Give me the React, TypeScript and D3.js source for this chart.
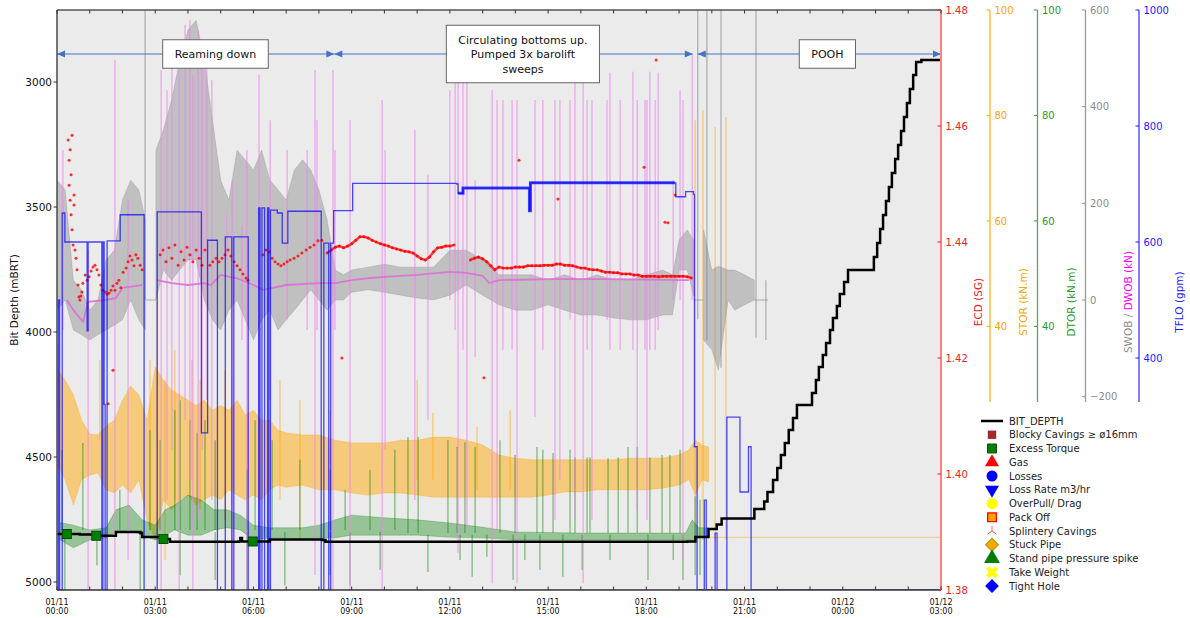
import React, { useEffect, useRef } from "react";
import * as d3 from "d3";

// time is in hours after 01/11 00:00
const timeTicks = [0, 3, 6, 9, 12, 15, 18, 21, 24, 27];
const timeTickLabels = [
  ["01/11", "00:00"], ["01/11", "03:00"], ["01/11", "06:00"], ["01/11", "09:00"], ["01/11", "12:00"],
  ["01/11", "15:00"], ["01/11", "18:00"], ["01/11", "21:00"], ["01/12", "00:00"], ["01/12", "03:00"],
];
const depthTicks = [3000, 3500, 4000, 4500, 5000];
const ecdTicks = [1.38, 1.40, 1.42, 1.44, 1.46, 1.48];
const storTicks = [40, 60, 80, 100];
const dtorTicks = [40, 60, 80, 100];
const wobTicks = [-200, 0, 200, 400, 600];
const tfloTicks = [400, 600, 800, 1000];

// BIT_DEPTH [h, mBRT]
const bitDepth = [
  [0, 4808], [0.7, 4810], [1.3, 4815], [1.8, 4800], [2.55, 4804], [2.6, 4820], [3.3, 4828], [3.45, 4839],
  [5.55, 4838], [5.6, 4824], [5.65, 4838], [6.5, 4830], [8.1, 4832], [8.2, 4839], [19.25, 4838],
  [19.5, 4820], [19.9, 4788], [20.15, 4770], [20.3, 4746], [21.3, 4708], [21.6, 4678], [21.7, 4640],
  [21.87, 4592], [22.0, 4544], [22.11, 4492], [22.23, 4444], [22.35, 4392], [22.48, 4344], [22.6, 4292],
  [23.06, 4244], [23.18, 4192], [23.27, 4140], [23.39, 4092], [23.49, 4044], [23.61, 3992], [23.7, 3944],
  [23.82, 3896], [23.91, 3848], [24.04, 3800], [24.16, 3752], [24.95, 3700], [25.05, 3644], [25.14, 3588],
  [25.23, 3532], [25.32, 3476], [25.41, 3420], [25.5, 3364], [25.6, 3308], [25.69, 3252], [25.78, 3196],
  [25.87, 3140], [25.96, 3084], [26.05, 3028], [26.15, 2972], [26.24, 2920], [26.4, 2912], [27, 2912],
];

// Excess Torque events [h, mBRT]
const excessTorque = [[0.3, 4808], [1.2, 4815], [3.25, 4828], [5.98, 4838]];

// TFLO gpm, step after [h, gpm]
const tflo = [
  [0, 0], [0.04, 500], [0.08, 0], [0.16, 650], [0.24, 600], [0.92, 447], [0.95, 600], [1.37, 0], [1.4, 600],
  [1.44, 320], [1.47, 0], [1.53, 602], [1.93, 647], [2.66, 0], [3.06, 652], [4.41, 271], [4.6, 603], [4.9, 0],
  [5.14, 609], [5.34, 0], [5.4, 609], [5.84, 0], [6.16, 659], [6.2, 0], [6.26, 659], [6.34, 0], [6.43, 659],
  [6.47, 0], [6.52, 655], [6.73, 650], [6.88, 598], [7.05, 653], [8.07, 0], [8.15, 598], [8.3, 0], [8.36, 598],
  [8.45, 654], [9.03, 701], [12.21, 700], [12.25, 684], [12.4, 693], [14.41, 693], [14.43, 654], [14.46, 702],
  [18.87, 702], [18.9, 678], [19.2, 687], [19.44, 682], [19.47, 247], [19.55, 0], [19.77, 155], [19.83, 0],
  [20.1, 98], [20.16, 0], [20.46, 298], [20.86, 169], [21.12, 247], [21.2, 0], [27, 0],
];

// ECD scattered readings [h, SG]
const ecdScatter = [
  [0.34, 1.4576], [0.37, 1.4541], [0.37, 1.4498], [0.40, 1.4559], [0.40, 1.4472], [0.43, 1.4516], [0.43, 1.4447],
  [0.46, 1.4584], [0.46, 1.4421], [0.49, 1.4395], [0.52, 1.4481], [0.52, 1.4464], [0.55, 1.4386], [0.58, 1.4372],
  [0.61, 1.4352], [0.64, 1.4326], [0.67, 1.4305], [0.70, 1.4300], [0.73, 1.4307], [0.76, 1.4314], [0.79, 1.4329],
  [0.86, 1.4343], [0.92, 1.4334], [0.98, 1.4340], [1.04, 1.4350], [1.10, 1.4357], [1.16, 1.4360], [1.22, 1.4352],
  [1.28, 1.4343], [1.34, 1.4326], [1.40, 1.4317], [1.47, 1.4314], [1.53, 1.4310], [1.56, 1.4121], [1.59, 1.4312],
  [1.65, 1.4317], [1.71, 1.4324], [1.71, 1.4179], [1.77, 1.4317], [1.83, 1.4329], [1.89, 1.4334], [1.95, 1.4321],
  [2.02, 1.4348], [2.11, 1.4355], [2.17, 1.4366], [2.23, 1.4376], [2.29, 1.4369], [2.35, 1.4359], [2.41, 1.4378],
  [2.47, 1.4372], [2.54, 1.4360], [2.60, 1.4352],
  [3.15, 1.4378], [3.24, 1.4386], [3.33, 1.4366], [3.42, 1.4390], [3.51, 1.4372], [3.60, 1.4395], [3.70, 1.4360],
  [3.79, 1.4383], [3.88, 1.4369], [3.97, 1.4391], [4.06, 1.4378], [4.15, 1.4366], [4.25, 1.4386], [4.34, 1.4372],
  [4.43, 1.4360], [4.52, 1.4386], [4.67, 1.4360], [4.76, 1.4366], [4.86, 1.4372], [4.95, 1.4366], [5.04, 1.4372],
  [5.13, 1.4378], [5.22, 1.4386], [5.31, 1.4376], [5.41, 1.4366], [5.50, 1.4359], [5.59, 1.4352], [5.68, 1.4345],
  [5.77, 1.4338], [5.83, 1.4334],
  [6.29, 1.4378], [6.38, 1.4386], [6.48, 1.4383], [6.57, 1.4372], [6.66, 1.4366], [6.75, 1.4362], [6.84, 1.4359],
  [6.93, 1.4362], [7.03, 1.4366], [7.12, 1.4369], [7.24, 1.4372], [7.36, 1.4376], [7.48, 1.4381], [7.61, 1.4386],
  [7.73, 1.4391], [7.85, 1.4395], [7.97, 1.4402], [8.09, 1.4403],
  [14.11, 1.4541], [17.93, 1.4529], [15.30, 1.4474], [8.70, 1.4200], [13.04, 1.4166], [18.57, 1.4434],
  [18.66, 1.4433], [18.88, 1.4481], [18.30, 1.4714],
];
// ECD sampled every 7.5 min
const ecdStep = 0.125;
const ecdStartA = 8.25;
const ecdValuesA = [
  1.4381, 1.4386, 1.4391, 1.4393, 1.4390, 1.4393, 1.4397, 1.4403, 1.4409, 1.4409, 1.4407, 1.4403, 1.4400, 1.4397,
  1.4395, 1.4393, 1.4390, 1.4388, 1.4386, 1.4384, 1.4383, 1.4381, 1.4376, 1.4371, 1.4369, 1.4374, 1.4383, 1.4390,
  1.4391, 1.4393, 1.4393, 1.4395,
];
const ecdStartB = 12.625;
const ecdValuesB = [
  1.4369, 1.4372, 1.4374, 1.4371, 1.4366, 1.4359, 1.4352, 1.4357, 1.4355, 1.4355, 1.4355, 1.4357, 1.4357, 1.4357,
  1.4359, 1.4359, 1.4359, 1.4359, 1.4360, 1.4360, 1.4360, 1.4362, 1.4362, 1.4360, 1.4360, 1.4359, 1.4357, 1.4355,
  1.4355, 1.4353, 1.4352, 1.4352, 1.4350, 1.4348, 1.4348, 1.4347, 1.4347, 1.4345, 1.4345, 1.4345, 1.4343, 1.4343,
  1.4341, 1.4341, 1.4341, 1.4341, 1.4340, 1.4341, 1.4341, 1.4341, 1.4341, 1.4341, 1.4341, 1.4340, 1.4338,
];

// SWOB envelope [h, low, high] kN (null = no reading)
const swobEnv = [
  [0, -21, 248], [0.25, 0, 228], [0.5, -62, 41], [0.75, -72, 21], [1.0, -83, -21], [1.25, -72, 0], [1.5, -62, 83],
  [1.75, -52, 103], [2.0, -41, 207], [2.25, 0, 248], [2.5, -41, 228], [2.7, -62, 166], null,
  [3.02, 0, 310], [3.25, 62, 352], [3.5, 41, 414], [3.75, 62, 496], [4.0, 83, 558], [4.25, 83, 579], [4.5, 0, 496],
  [4.75, -41, 372], [5.0, -62, 248], [5.25, -21, 207], [5.5, 0, 310], [5.75, -41, 290], [6.0, -83, 269],
  [6.25, -41, 310], [6.5, -21, 248], [6.75, -62, 228], [7.0, -41, 207], [7.25, -21, 269], [7.5, 0, 290],
  [7.75, 21, 269], [8.0, 0, 228], [8.25, -21, 166], [8.5, 0, 62], [8.75, 0, 52], [9.0, 16, 62], [9.5, 21, 68],
  [10.0, 16, 74], [10.5, 10, 68], [11.0, 4, 68], [11.5, 0, 68], [12.0, 10, 103], [12.5, 31, 103], [13.0, 10, 83],
  [13.5, -10, 52], [14.0, -21, 52], [14.5, -21, 52], [15.0, -10, 41], [15.5, -21, 52], [16.0, -31, 41],
  [16.5, -31, 52], [17.0, -37, 41], [17.5, -41, 41], [18.0, -41, 52], [18.5, -31, 62], [18.8, -31, 52],
  [19.0, 62, 124], [19.25, 62, 145], [19.45, 8, 124], null,
  [19.75, -83, 145], [20.0, -103, 62], [20.2, -145, 70], [20.5, 0, 62], [20.7, -21, 62], [21.0, -10, 52],
  [21.3, 0, 41],
];
const swobFlat = [[2.7, 3.02], [19.45, 19.75], [21.3, 21.72]];
const swobSpikes = [
  [2.69, 0, 650], [19.57, -40, 650], [19.85, -83, 650], [20.28, -140, 650], [21.35, -78, 650], [21.65, -83, 41],
];

// DWOB trend [h, kN] and spikes [h, low, high]
const dwobLine = [
  [0.3, 0], [0.5, -21], [0.8, -45], [0.95, -4], [1.5, 0], [1.8, 4], [2.0, 25], [2.6, 31], null,
  [3.05, 41], [3.5, 35], [4.0, 31], [4.5, 35], [4.7, 31], [5.0, 52], [5.5, 45], [6.0, 31], [6.3, 21], [7.0, 31],
  [8.0, 35], [8.5, 35], [9.0, 41], [9.5, 45], [10, 48], [11, 52], [12, 58], [12.5, 56], [13.0, 50], [13.2, 35],
  [13.5, 41], [15, 43], [17, 43], [19, 41], [19.3, 41],
];
const dwobSpikes = [
  [0.18, -62, 310], [0.95, -600, 103], [1.77, -600, 497], [2.17, -538, 207], [3.18, -600, 476], [3.36, -414, 434],
  [3.51, -310, 538], [3.73, -600, 476], [3.91, -248, 569], [4.06, -372, 579], [4.15, -600, 466], [4.31, -455, 559],
  [4.43, -310, 517], [4.58, -207, 538], [4.73, -414, 455], [5.19, 83, 176], [5.35, -600, 248], [5.65, -83, 155],
  [5.8, -600, 310], [6.17, -600, 466], [6.51, -207, 372], [7.03, -41, 310], [7.64, -62, 310], [7.88, -569, 476],
  [7.94, -62, 372], [8.43, -600, 476], [8.49, -62, 310], [8.95, -600, 372],
  [9.93, -600, 414], [10.02, -310, 310], [10.93, -414, 352], [11.33, -248, 259], [12.0, 0, 434], [12.16, -62, 476],
  [12.25, -523, 455], [12.4, -103, 470], [12.52, -476, 470], [12.77, -118, 248], [13.29, -586, 434],
  [13.44, -476, 414], [13.62, -103, 414], [13.9, -103, 414], [14.05, -586, 414], [14.6, -242, 414],
  [14.84, -103, 414], [15.21, -455, 414], [15.36, -372, 414], [15.67, -41, 414], [15.82, -455, 476],
  [16.07, -586, 476], [16.19, -103, 414], [16.34, -455, 414], [16.8, -41, 414], [16.89, -103, 470],
  [17.2, -103, 414], [17.59, -103, 472], [17.72, -434, 414], [17.96, -103, 414], [18.02, -455, 414],
  [18.11, -103, 472], [18.27, -103, 414], [18.36, -62, 470], [18.82, 0, 248], [19.03, 0, 434], [19.12, -538, 414],
  [19.4, 0, 507],
];

// STOR envelope [h, low, high] kN.m
const storEnv = [
  [0, 13.7, 31.9], [0.25, 10.9, 29.8], [0.5, 6.1, 27], [0.75, 10.9, 22.2], [1.0, 11.8, 19.6], [1.25, 12.2, 19.4],
  [1.5, 9, 21.1], [1.75, 8.4, 22.2], [2.0, 9.9, 26], [2.25, 8.4, 28.7], [2.5, 10.9, 27], [2.75, 3.3, 22.2],
  [3.0, -0.5, 32.3], [3.25, 7.1, 29.8], [3.5, 5.2, 27.9], [3.75, 7.1, 27], [4.0, 8, 26], [4.25, 6.1, 25],
  [4.5, 7.1, 26], [4.75, 8, 24.1], [5.0, 7.1, 25], [5.25, 9, 24.1], [5.5, 8, 26], [5.75, 7.1, 23.2], [6.0, 8, 24.1],
  [6.25, 7.1, 22.2], [6.5, 9, 22.2], [6.75, 9.9, 20.3], [7.0, 9.5, 19.8], [7.5, 9.9, 19.4], [8.0, 9, 19.4],
  [8.5, 9, 18.4], [9.0, 8.4, 17.9], [9.5, 8, 17.9], [10, 8.4, 17.9], [10.5, 8.4, 18.4], [11, 8, 18.4],
  [11.5, 7.6, 19], [12, 7.6, 19], [12.5, 7.6, 18.4], [13, 7.6, 17.5], [13.5, 7.6, 15.6], [14, 7.6, 15],
  [14.5, 7.6, 14.7], [15, 8, 14.7], [15.5, 8.6, 14.7], [16, 8.6, 14.7], [16.5, 9, 14.7], [17, 9, 14.7],
  [17.5, 9, 15], [18, 9, 15], [18.5, 9.3, 15], [19, 9.9, 15.6], [19.3, 10.9, 16.6], [19.5, 8, 18.4],
  [19.7, 10.9, 17.5], [19.9, 10.5, 17.1],
];
const storZero = [[19.95, 0], [27, 0]];
const storSpikes = [
  [0.03, 20.3, 36.5], [1.31, 18.4, 33.6], [2.84, 1.4, 33.6], [3.05, -0.5, 46.9], [3.3, -4.3, 29.8],
  [3.6, 7.1, 35.5], [4.12, 10.9, 33.6], [4.37, 5.2, 29.8], [5.13, 3.3, 31.7], [6.81, 7.1, 29.8], [7.42, -0.5, 26],
  [8.34, 3.3, 24.1], [11.0, 10.9, 29.8], [11.48, 10.9, 23.6], [12.83, 9, 20.9], [13.84, 9, 24.1],
  [19.49, -0.5, 79.1], [19.73, -0.5, 81], [20.1, -0.5, 77.8], [20.43, -0.5, 79.7],
];

// DTOR envelope [h, low, high] kN.m and spikes
const dtorEnv = [
  [0.1, -0.5, 2.8], [0.5, -2, 2.3], [1.0, -0.5, 1.4], [1.5, -0.1, 1.8], [1.8, 1, 5.2], [2.2, 1.4, 6.1],
  [2.6, 0.4, 3.3], [3.0, -0.5, 2.3], [3.3, 0.4, 5.2], [3.6, 1.4, 6.1], [4.0, 0.4, 8], [4.4, 0.4, 7.1],
  [4.8, 1.4, 5.2], [5.2, 1.8, 5.2], [5.6, 1.4, 4.2], [6.0, -0.5, 2.3], [6.5, -0.1, 1.8], [7.0, -0.1, 1.8],
  [7.5, -0.5, 1.8], [8.0, -0.1, 2.3], [8.5, -0.1, 3.3], [9.0, 0.4, 4.2], [10, 0.4, 3.7], [11, 0.4, 3.3],
  [12, 0, 2.7], [13, -0.1, 1.9], [14, -0.5, 1.0], [16, -0.5, 0.8], [18, -0.5, 0.8], [19.2, -0.5, 0.8],
  [19.4, -0.5, 3.3], [19.6, -0.1, 1.8], [19.9, 0.4, 1.8],
];
const dtorSpikes = [
  [0.15, 1.4, 16.6], [0.79, 1.4, 17.9], [1.92, 1.4, 9], [2.84, 1.4, 20.3], [3.15, 1.4, 18.4], [3.6, 1.4, 24.1],
  [3.76, 1.4, 26], [4.06, 1.4, 22.2], [4.28, 1.4, 19.8], [4.52, 1.4, 22.2], [4.83, 1.4, 18.4], [5.8, 1.4, 12.8],
  [6.05, 1.4, 22.2], [6.57, 1.4, 18.4], [7.42, 1.4, 14.7], [8.34, 1.4, 12.8], [8.8, 1.4, 9], [9.56, 1.4, 12.8],
  [10.32, 1.4, 16.6], [10.72, 0.8, 19], [11.03, 0.8, 19], [11.94, 0.8, 18.4], [12.22, 0.8, 17.1], [12.46, 0.8, 18],
  [12.77, 0.8, 17.1], [13.53, 0.8, 18.4], [13.99, 0.8, 15.6], [14.66, 0.8, 17.1], [14.84, 0.8, 16.6],
  [15.15, 0.8, 16], [15.67, 0.8, 16.6], [15.82, 0.8, 15.2], [16.19, 0.8, 15.2], [16.28, 0.8, 15.2],
  [16.83, 0.8, 15], [17.14, 0.8, 15.2], [17.44, 0.8, 17.1], [17.72, 0.8, 17.1], [18.11, 0.8, 15.2],
  [18.48, 0.8, 15.6], [18.72, 0.8, 15.6], [19.03, 0.8, 16.6],
  [0.24, -10, 1], [1.22, -5.3, 1], [2.54, -10, 1], [3.76, -7.2, 1], [4.83, -8.1, 1], [5.8, -10, 1], [6.96, -9.1, 1],
  [8.34, -7.2, 1], [8.95, -9.1, 1], [9.87, -6.2, 1], [11.33, -6.6, 0.5], [12.31, -4.3, 0.5], [12.68, -7.5, 0.5],
  [13.13, -3.7, 0.5], [13.93, -8.1, 0.5], [14.29, -4.3, 0.5], [14.75, -6.2, 0.5], [15.45, -7.5, 0.5],
  [16.04, -6.2, 0.5], [16.89, -4.3, 0.5], [18.05, -8.1, 0.5], [18.82, -4.3, 0.5], [19.12, -8.1, 0.5],
  [19.49, -7.2, 7.8], [19.64, -7.2, 7.1],
];

// Phase annotations
const phaseArrows = [[0, 8.47], [8.47, 19.42], [19.57, 27]];
const phaseDepth = 2888;
const phaseBoxes = [
  { h: 4.84, lines: ["Reaming down"] },
  { h: 14.23, lines: ["Circulating bottoms up.", "Pumped 3x barolift", "sweeps"] },
  { h: 23.53, lines: ["POOH"] },
];

const legendLabels = [
  "BIT_DEPTH", "Blocky Cavings \u2265 \u00f816mm", "Excess Torque", "Gas", "Losses", "Loss Rate m3/hr",
  "OverPull/ Drag", "Pack Off", "Splintery Cavings", "Stuck Pipe", "Stand pipe pressure spike", "Take Weight",
  "Tight Hole",
];

const W = 1190, H = 618;
const X0 = 57, X1 = 941, Y0 = 10, Y1 = 590;
const FONT = "DejaVu Sans, Verdana, sans-serif";

function draw(el: SVGSVGElement) {
  const svg = d3.select(el);
  svg.selectAll("*").remove();

  const x = d3.scaleLinear().domain([0, 27]).range([X0, X1]);
  const yDepth = d3.scaleLinear().domain([2712, 5032]).range([Y0, Y1]);
  const yEcd = d3.scaleLinear().domain([1.38, 1.48]).range([Y1, Y0]);
  const yTor = d3.scaleLinear().domain([-10, 100]).range([Y1, Y0]);
  const yWob = d3.scaleLinear().domain([-600, 600]).range([Y1, Y0]);
  const yFlo = d3.scaleLinear().domain([0, 1000]).range([Y1, Y0]);

  svg.append("rect").attr("width", W).attr("height", H).attr("fill", "#ffffff");
  svg.append("rect").attr("x", X0).attr("y", Y0).attr("width", X1 - X0).attr("height", Y1 - Y0).attr("fill", "#ebebeb");
  svg.append("defs").append("clipPath").attr("id", "plotclip")
    .append("rect").attr("x", X0).attr("y", Y0).attr("width", X1 - X0).attr("height", Y1 - Y0);
  const plot = svg.append("g").attr("clip-path", "url(#plotclip)");

  const band = (y) => d3.area().defined((d) => d != null)
    .x((d) => x(d[0])).y0((d) => y(d[1])).y1((d) => y(d[2]));
  const spikes = (data, y, color, op, w) => {
    plot.append("g").selectAll("line").data(data).join("line")
      .attr("x1", (d) => x(d[0])).attr("x2", (d) => x(d[0]))
      .attr("y1", (d) => y(d[1])).attr("y2", (d) => y(d[2]))
      .attr("stroke", color).attr("stroke-opacity", op).attr("stroke-width", w);
  };

  // STOR
  plot.append("path").datum(storEnv).attr("d", band(yTor)).attr("fill", "#ffa500").attr("fill-opacity", 0.48)
    .attr("stroke", "#ffa500").attr("stroke-opacity", 0.3).attr("stroke-width", 1);
  spikes(storSpikes, yTor, "#ffa500", 0.55, 1.2);
  plot.append("path").datum(storZero)
    .attr("d", d3.line().x((d) => x(d[0])).y((d) => yTor(d[1])))
    .attr("fill", "none").attr("stroke", "#ffa500").attr("stroke-opacity", 0.45).attr("stroke-width", 1);

  // DTOR
  plot.append("path").datum(dtorEnv).attr("d", band(yTor)).attr("fill", "#008000").attr("fill-opacity", 0.36)
    .attr("stroke", "#008000").attr("stroke-opacity", 0.25).attr("stroke-width", 1);
  spikes(dtorSpikes, yTor, "#008000", 0.5, 1.2);

  // SWOB
  plot.append("path").datum(swobEnv).attr("d", band(yWob)).attr("fill", "#808080").attr("fill-opacity", 0.4)
    .attr("stroke", "#808080").attr("stroke-opacity", 0.25).attr("stroke-width", 1);
  plot.append("g").selectAll("line").data(swobFlat).join("line")
    .attr("x1", (d) => x(d[0])).attr("x2", (d) => x(d[1])).attr("y1", yWob(0)).attr("y2", yWob(0))
    .attr("stroke", "#808080").attr("stroke-opacity", 0.6).attr("stroke-width", 1);
  spikes(swobSpikes, yWob, "#808080", 0.55, 1.3);

  // DWOB
  spikes(dwobSpikes, yWob, "#ee82ee", 0.7, 1.2);
  plot.append("path").datum(dwobLine)
    .attr("d", d3.line().defined((d) => d != null).x((d) => x(d[0])).y((d) => yWob(d[1])))
    .attr("fill", "none").attr("stroke", "#da70d6").attr("stroke-opacity", 0.9).attr("stroke-width", 1.8);

  // ECD
  const segA = ecdValuesA.map((v, i) => [ecdStartA + i * ecdStep, v]);
  const segB = ecdValuesB.map((v, i) => [ecdStartB + i * ecdStep, v]);
  const ecdLine = d3.line().x((d) => x(d[0])).y((d) => yEcd(d[1]));
  [segA, segB].forEach((seg) => {
    plot.append("path").datum(seg).attr("d", ecdLine).attr("fill", "none")
      .attr("stroke", "#ff0000").attr("stroke-opacity", 0.75).attr("stroke-width", 2.4);
  });
  plot.append("g").selectAll("circle").data([...ecdScatter, ...segA, ...segB]).join("circle")
    .attr("cx", (d) => x(d[0])).attr("cy", (d) => yEcd(d[1])).attr("r", 1.5)
    .attr("fill", "#ff0000").attr("fill-opacity", 0.8);

  // TFLO
  const floLine = d3.line().curve(d3.curveStepAfter).x((d) => x(d[0])).y((d) => yFlo(d[1]));
  plot.append("path").datum(tflo).attr("d", floLine).attr("fill", "none")
    .attr("stroke", "#0000ff").attr("stroke-opacity", 0.7).attr("stroke-width", 1.3);
  plot.append("path").datum(tflo.filter((d) => d[0] >= 12.25 && d[0] <= 18.87)).attr("d", floLine)
    .attr("fill", "none").attr("stroke", "#0000ff").attr("stroke-opacity", 0.7).attr("stroke-width", 3);

  // BIT_DEPTH
  plot.append("path").datum(bitDepth)
    .attr("d", d3.line().curve(d3.curveStepAfter).x((d) => x(d[0])).y((d) => yDepth(d[1])))
    .attr("fill", "none").attr("stroke", "#000").attr("stroke-width", 2.5);
  plot.append("g").selectAll("rect").data(excessTorque).join("rect")
    .attr("x", (d) => x(d[0]) - 4.5).attr("y", (d) => yDepth(d[1]) - 4.5).attr("width", 9).attr("height", 9)
    .attr("fill", "#008000").attr("stroke", "#0b4a0b").attr("stroke-width", 1);

  // phase arrows and boxes
  const ya = yDepth(phaseDepth);
  const arrows = svg.append("g");
  const head = (xp, dir) => `M${xp},${ya} L${xp - dir * 8},${ya - 3.5} L${xp - dir * 8},${ya + 3.5} Z`;
  phaseArrows.forEach(([a, b]) => {
    const xa = x(a), xb = x(b);
    arrows.append("line").attr("x1", xa).attr("x2", xb).attr("y1", ya).attr("y2", ya)
      .attr("stroke", "#4472c4").attr("stroke-width", 1);
    arrows.append("path").attr("d", head(xa, -1)).attr("fill", "#4472c4");
    arrows.append("path").attr("d", head(xb, 1)).attr("fill", "#4472c4");
  });
  phaseBoxes.forEach((b) => {
    const g = svg.append("g");
    const lh = 14.5;
    const cx = x(b.h);
    const t = g.append("text").attr("font-family", FONT).attr("font-size", 11).attr("text-anchor", "middle")
      .attr("fill", "#111");
    b.lines.forEach((ln, i) => {
      t.append("tspan").attr("x", cx).attr("y", ya + (i - (b.lines.length - 1) / 2) * lh + 4).text(ln);
    });
    const bb = (t.node() as SVGTextElement).getBBox();
    g.insert("rect", "text").attr("x", bb.x - 12).attr("y", ya - (b.lines.length * lh) / 2 - 7)
      .attr("width", bb.width + 24).attr("height", b.lines.length * lh + 14)
      .attr("fill", "#ffffff").attr("stroke", "#666").attr("stroke-width", 1);
  });

  // spines
  svg.append("line").attr("x1", X0).attr("x2", X1).attr("y1", Y0).attr("y2", Y0).attr("stroke", "#555").attr("stroke-width", 1.5);
  svg.append("line").attr("x1", X0).attr("x2", X1).attr("y1", Y1).attr("y2", Y1).attr("stroke", "#333").attr("stroke-width", 1.5);
  svg.append("line").attr("x1", X0).attr("x2", X0).attr("y1", Y0).attr("y2", Y1).attr("stroke", "#555").attr("stroke-width", 1.6);
  svg.append("line").attr("x1", X1).attr("x2", X1).attr("y1", Y0).attr("y2", Y1).attr("stroke", "#ff8080").attr("stroke-width", 2);

  // x axis
  const xt = svg.append("g");
  d3.range(0, 28).forEach((h) => {
    xt.append("line").attr("x1", x(h)).attr("x2", x(h)).attr("y1", Y1).attr("y2", Y1 - 3.5).attr("stroke", "#333");
    xt.append("line").attr("x1", x(h)).attr("x2", x(h)).attr("y1", Y0).attr("y2", Y0 + 3.5).attr("stroke", "#333");
  });
  timeTicks.forEach((h, i) => {
    const t = xt.append("text").attr("font-family", FONT).attr("font-size", 8).attr("text-anchor", "middle").attr("fill", "#111");
    t.append("tspan").attr("x", x(h)).attr("y", 604.5).text(timeTickLabels[i][0]);
    t.append("tspan").attr("x", x(h)).attr("y", 613.5).text(timeTickLabels[i][1]);
  });

  // left axis
  depthTicks.forEach((d) => {
    svg.append("line").attr("x1", X0 - 3.5).attr("x2", X0).attr("y1", yDepth(d)).attr("y2", yDepth(d)).attr("stroke", "#333");
    svg.append("text").attr("x", X0 - 5).attr("y", yDepth(d) + 3.6).attr("text-anchor", "end")
      .attr("font-family", FONT).attr("font-size", 10.5).attr("fill", "#111").text(d);
  });
  svg.append("text").attr("transform", `translate(18,${(Y0 + Y1) / 2}) rotate(-90)`).attr("text-anchor", "middle")
    .attr("font-family", FONT).attr("font-size", 10.5).attr("fill", "#111").text("Bit Depth (mBRT)");

  // right axes
  const fmt = (v) => (v < 0 ? "\u2212" + Math.abs(v) : String(v));
  const rightAxis = (xs, ticks, y, color, spineColor, labelFmt, spineEnd, labelX, label) => {
    if (spineEnd) svg.append("line").attr("x1", xs).attr("x2", xs).attr("y1", Y0).attr("y2", spineEnd)
      .attr("stroke", spineColor).attr("stroke-width", 1.3);
    ticks.forEach((v) => {
      svg.append("line").attr("x1", xs - 3.5).attr("x2", xs).attr("y1", y(v)).attr("y2", y(v)).attr("stroke", color);
      svg.append("text").attr("x", xs + 4.5).attr("y", y(v) + 3.6).attr("font-family", FONT).attr("font-size", 10)
        .attr("fill", color).text(labelFmt(v));
    });
    if (label) svg.append("text").attr("transform", `translate(${labelX},${(Y0 + Y1) / 2 + 2}) rotate(-90)`)
      .attr("text-anchor", "middle").attr("font-family", FONT).attr("font-size", 10.5).attr("fill", color).text(label);
  };
  rightAxis(X1, ecdTicks, yEcd, "#ee2222", null, (v) => v.toFixed(2), null, 982, "ECD (SG)");
  rightAxis(990, storTicks, yTor, "#ffa500", "#ffb020", String, 402, 1027, "STOR (kN.m)");
  rightAxis(1037.5, dtorTicks, yTor, "#2a9a2a", "#5aa85a", String, 402, 1075, "DTOR (kN.m)");
  rightAxis(1085.5, wobTicks, yWob, "#8c8c8c", "#9a9a9a", fmt, 402, 0, null);
  rightAxis(1139, tfloTicks, yFlo, "#1a1aff", "#3a3aff", String, 402, 1183, "TFLO (gpm)");
  const wl = svg.append("text").attr("transform", `translate(1132,${(Y0 + Y1) / 2 + 2}) rotate(-90)`)
    .attr("text-anchor", "middle").attr("font-family", FONT).attr("font-size", 10.5);
  wl.append("tspan").attr("fill", "#8c8c8c").text("SWOB / ");
  wl.append("tspan").attr("fill", "#ff00ff").text("DWOB (kN)");

  // legend
  const lg = svg.append("g").attr("font-family", FONT).attr("font-size", 10);
  const mx = 992, ly0 = 421, lstep = 13.75;
  const sym = (type, size) => d3.symbol().type(type).size(size)();
  legendLabels.forEach((lab, i) => {
    const yy = ly0 + i * lstep;
    const g = lg.append("g").attr("transform", `translate(${mx},${yy})`);
    switch (i) {
      case 0: g.append("line").attr("x1", -11).attr("x2", 11).attr("stroke", "#000").attr("stroke-width", 2.5); break;
      case 1: g.append("path").attr("d", sym(d3.symbolSquare, 70)).attr("fill", "#a52a2a"); break;
      case 2: g.append("path").attr("d", sym(d3.symbolSquare, 80)).attr("fill", "#008000").attr("stroke", "#0b4a0b"); break;
      case 3: g.append("path").attr("d", sym(d3.symbolTriangle, 85)).attr("fill", "#ff0000"); break;
      case 4: g.append("path").attr("d", sym(d3.symbolCircle, 95)).attr("fill", "#0000ff"); break;
      case 5: g.append("path").attr("d", sym(d3.symbolTriangle, 85)).attr("transform", "rotate(180)").attr("fill", "#0000ff"); break;
      case 6: g.append("path").attr("d", sym(d3.symbolCircle, 95)).attr("fill", "#ffff00"); break;
      case 7: g.append("path").attr("d", sym(d3.symbolSquare, 75)).attr("fill", "#ffa500").attr("stroke", "#ff0000").attr("stroke-width", 1.3); break;
      case 8: g.append("path").attr("d", "M0,0 L0,-5 M0,0 L-4.3,3 M0,0 L4.3,3").attr("stroke", "#ff6060").attr("fill", "none"); break;
      case 9: g.append("path").attr("d", sym(d3.symbolSquare, 80)).attr("transform", "rotate(45)").attr("fill", "#ffa500").attr("stroke", "#b8a400").attr("stroke-width", 1.3); break;
      case 10: g.append("path").attr("d", sym(d3.symbolTriangle, 110)).attr("fill", "#008000"); break;
      case 11: g.append("path").attr("d", sym(d3.symbolCross, 90)).attr("transform", "rotate(45)").attr("fill", "#ffff00"); break;
      case 12: g.append("path").attr("d", sym(d3.symbolSquare, 95)).attr("transform", "rotate(45)").attr("fill", "#0000ff"); break;
    }
    lg.append("text").attr("x", 1009).attr("y", yy + 3.6).attr("fill", "#222").text(lab);
  });
}

export default function App() {
  const ref = useRef<SVGSVGElement>(null);
  useEffect(() => {
    if (ref.current) draw(ref.current);
  }, []);
  return (
    <svg ref={ref} width={W} height={H} style={{ position: "absolute", left: 0, top: 0, display: "block" }} />
  );
}
